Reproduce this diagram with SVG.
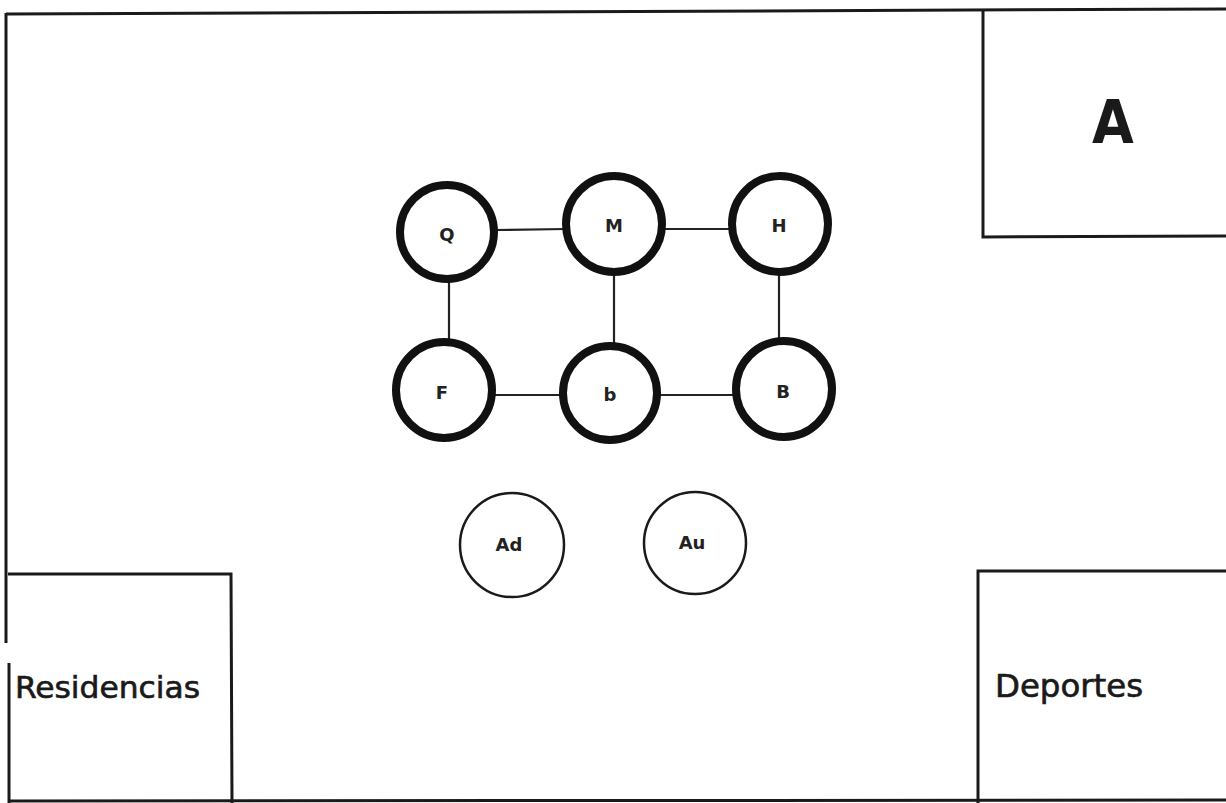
<svg xmlns="http://www.w3.org/2000/svg" width="1226" height="803" viewBox="0 0 1226 803">
<style>
.frame{fill:none;stroke:#1a1a1a;stroke-width:3}
.big{fill:#fff;stroke:#111;stroke-width:8}
.small{fill:#fff;stroke:#1a1a1a;stroke-width:2.5}
.edge{stroke:#222;stroke-width:2.2}
.lbl{font-family:"DejaVu Sans","Liberation Sans",sans-serif;font-weight:bold;font-size:18px;fill:#222;text-anchor:middle}
.area{font-family:"DejaVu Sans Condensed","DejaVu Sans","Liberation Sans",sans-serif;fill:#1a1a1a}
</style>
<rect width="1226" height="803" fill="#fff"/>
<g id="frame">
<line class="frame" x1="6" y1="14" x2="1226" y2="9"/>
<line class="frame" x1="6" y1="13" x2="6" y2="643"/>
<line class="frame" x1="9" y1="663" x2="9" y2="803"/>
<line class="frame" x1="8" y1="801" x2="1226" y2="800"/>
</g>
<g id="area-A">
<polyline class="frame" points="983,11 983,237 1226,236"/>
<text class="area" x="1113" y="143" font-size="60" font-weight="bold" text-anchor="middle">A</text>
</g>
<g id="area-residencias">
<polyline class="frame" points="8,574 231,574 232,803"/>
<text class="area" x="15" y="698" font-size="31" stroke="#1a1a1a" stroke-width="0.6" textLength="185" lengthAdjust="spacingAndGlyphs">Residencias</text>
</g>
<g id="area-deportes">
<polyline class="frame" points="978,803 978,571 1226,571"/>
<text class="area" x="995" y="697" font-size="32" stroke="#1a1a1a" stroke-width="0.6" textLength="148" lengthAdjust="spacingAndGlyphs">Deportes</text>
</g>
<g id="connectors">
<line class="edge" x1="496" y1="230" x2="566" y2="229"/>
<line class="edge" x1="662" y1="229" x2="732" y2="229"/>
<line class="edge" x1="493" y1="395" x2="563" y2="395"/>
<line class="edge" x1="657" y1="395" x2="736" y2="395"/>
<line class="edge" x1="449" y1="280" x2="449" y2="342"/>
<line class="edge" x1="614" y1="272" x2="614" y2="346"/>
<line class="edge" x1="779" y1="272" x2="779" y2="342"/>
</g>
<g id="node-Q"><circle class="big" cx="447" cy="232" r="47"/><text class="lbl" x="447" y="241">Q</text></g>
<g id="node-M"><circle class="big" cx="614" cy="224" r="48"/><text class="lbl" x="614" y="232">M</text></g>
<g id="node-H"><circle class="big" cx="780" cy="224" r="48"/><text class="lbl" x="779" y="232">H</text></g>
<g id="node-F"><circle class="big" cx="444" cy="390" r="48"/><text class="lbl" x="442" y="399">F</text></g>
<g id="node-b"><circle class="big" cx="610" cy="393" r="47"/><text class="lbl" x="610" y="401">b</text></g>
<g id="node-B"><circle class="big" cx="784" cy="389" r="48"/><text class="lbl" x="783" y="398">B</text></g>
<g id="node-Ad"><circle class="small" cx="512" cy="545" r="52"/><text class="lbl" x="509" y="551">Ad</text></g>
<g id="node-Au"><circle class="small" cx="695" cy="543" r="51"/><text class="lbl" x="692" y="549">Au</text></g>
</svg>
